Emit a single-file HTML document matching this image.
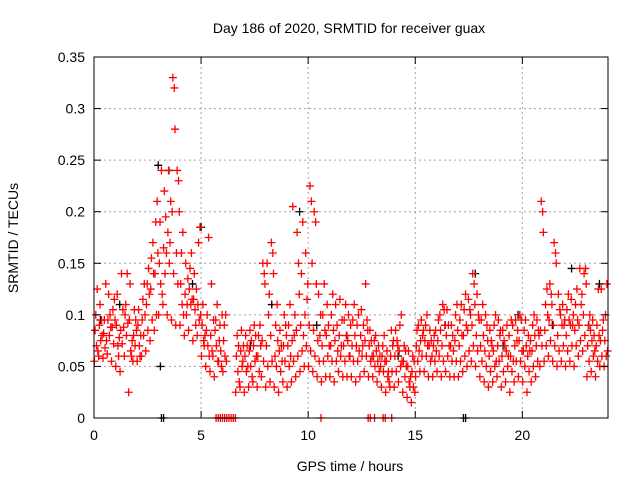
<!DOCTYPE html>
<html><head><meta charset="utf-8"><style>
body{margin:0;background:#fff}
svg{display:block;font-family:"Liberation Sans",sans-serif}
</style></head><body>
<svg id="chart" width="640" height="480" viewBox="0 0 640 480">
<text x="349" y="33" font-size="14" text-anchor="middle">Day 186 of 2020, SRMTID for receiver guax</text>
<text transform="translate(18,238) rotate(-90)" font-size="14" text-anchor="middle">SRMTID / TECUs</text>
<text x="350" y="471" font-size="14" text-anchor="middle">GPS time / hours</text>
<g id="grid"></g><g id="black"></g><g id="red"></g><g id="axes"></g>
</svg>
<script>
const xTicks=[0,5,10,15,20];
const yTicks=[0,0.05,0.1,0.15,0.2,0.25,0.3,0.35];
const yTickLabels=["0","0.05","0.1","0.15","0.2","0.25","0.3","0.35"];
const binHours=0.2;
const lo=[55,60,58,62,55,50,45,60,25,55,55,60,65,75,85,100,110,100,95,90,90,80,85,75,80,60,50,45,40,55,45,null,null,25,30,25,30,35,30,40,30,35,30,25,35,30,35,40,45,50,50,45,40,35,40,40,35,45,40,40,40,35,40,45,40,40,35,30,25,30,30,35,25,20,15,40,45,45,40,40,45,40,45,40,40,40,45,50,55,50,40,35,30,35,40,30,35,25,35,40,35,25,35,40,50,55,60,55,50,55,50,55,50,60,65,40,45,40,50,50];
const m1=[70,75,68,80,72,70,72,80,65,70,70,80,85,95,100,130,140,150,140,130,110,100,110,105,95,75,70,65,70,65,60,null,null,45,50,45,50,55,45,55,50,55,50,45,55,50,55,60,65,70,65,60,55,55,60,55,55,60,55,60,55,55,60,60,55,50,45,45,40,45,45,50,40,35,30,55,60,60,55,55,60,55,60,55,55,55,60,65,70,65,55,50,45,50,55,45,50,45,55,55,50,45,50,55,70,70,75,70,65,70,65,70,70,75,80,55,60,55,60,60];
const m2=[85,90,82,95,88,90,85,100,95,80,90,95,110,125,140,150,165,180,200,160,130,120,125,115,110,90,85,80,85,75,75,null,null,60,65,60,65,70,60,75,70,80,60,65,70,70,75,85,90,100,90,85,75,70,80,70,75,80,70,75,70,70,80,75,70,60,55,60,55,60,60,65,55,50,45,70,75,75,70,70,75,70,80,70,75,70,80,85,90,80,70,65,60,65,70,60,65,60,70,75,65,60,65,70,85,85,95,90,80,90,80,90,85,90,100,70,75,70,75,75];
const hi=[100,110,95,120,105,120,140,110,130,105,105,115,130,155,190,190,220,240,330,240,160,150,145,140,170,110,100,130,95,90,90,null,null,80,85,80,85,90,80,150,150,170,90,85,100,90,205,180,140,160,225,200,120,100,110,100,110,115,95,100,95,90,105,130,85,75,70,70,65,85,85,90,70,65,60,85,95,90,85,80,95,110,105,90,100,95,105,115,140,120,95,100,85,90,95,85,90,95,95,100,85,80,90,95,210,110,130,170,120,110,105,115,110,145,140,90,95,90,125,100];
const m3=[65,80,75,88,95,78,88,92,75,85,80,100,120,140,160,120,160,210,280,200,100,135,115,125,100,80,60,95,55,100,55,null,null,35,70,50,40,60,70,130,120,140,75,55,80,60,100,120,80,130,150,130,100,85,70,85,65,95,80,90,80,65,90,85,60,65,50,55,35,75,70,55,50,40,25,65,85,70,60,65,85,90,70,65,85,80,90,100,110,95,80,75,70,55,85,70,80,55,85,65,70,75,80,80,180,100,110,150,100,95,95,100,95,120,130,85,65,80,95,65];
const pk=[125,95,130,100,115,60,105,140,60,95,60,130,145,170,210,240,195,170,320,230,180,110,160,90,185,70,175,60,110,50,100,null,null,70,55,70,75,80,90,140,100,160,110,70,90,110,80,150,190,115,210,190,80,130,90,120,90,70,110,60,110,100,70,95,75,80,60,80,45,70,75,100,65,30,55,90,80,100,75,85,100,105,90,80,110,110,120,105,130,100,110,90,75,100,80,75,60,90,75,95,95,65,100,85,200,125,120,160,105,90,120,90,125,110,145,100,80,125,85,130];
const blackTimes=[0.3,1.2,3.0,3.1,3.5,4.6,5.0,7.3,8.3,9.6,10.4,11.8,14.2,16.4,17.8,19.1,19.8,21.4,22.3,23.1,23.6];
const blackVals=[0.095,0.11,0.245,0.05,0.24,0.13,0.185,0.07,0.11,0.2,0.09,0.08,0.06,0.09,0.14,0.07,0.1,0.09,0.145,0.09,0.13];
const blackZeroTimes=[3.15,3.25,17.25,17.35];
const redZeroTimes=[5.7,5.8,5.9,6.0,6.1,6.2,6.3,6.4,6.5,6.6,10.6,12.8,12.9,13.1,13.5,13.6,13.9];
const L=94,R=608,T=57,B=418,XMAX=24,YMAX=0.35;
const sx=t=>L+t/XMAX*(R-L), sy=v=>B-v/YMAX*(B-T);
const NS="http://www.w3.org/2000/svg";
function mk(tag,parent,attrs){const e=document.createElementNS(NS,tag);for(const k in attrs)e.setAttribute(k,attrs[k]);parent.appendChild(e);return e;}
const grid=document.getElementById('grid'),axes=document.getElementById('axes');
yTicks.forEach((v,i)=>{const y=sy(v);
 if(i>0&&i<yTicks.length-1){const g=mk('line',grid,{x1:L,x2:R,y1:y,y2:y,stroke:'#a0a0a0','stroke-dasharray':'2,3'});
 
 }
 mk('line',axes,{x1:L,x2:L+7,y1:y,y2:y,stroke:'#000'});mk('line',axes,{x1:R-7,x2:R,y1:y,y2:y,stroke:'#000'});
 const t=mk('text',axes,{x:L-9,y:y+5,'font-size':14,'text-anchor':'end'});t.textContent=yTickLabels[i];
 
 });
xTicks.forEach(v=>{const x=sx(v);
 if(v>0){const g=mk('line',grid,{x1:x,x2:x,y1:T,y2:B,stroke:'#a0a0a0','stroke-dasharray':'2,3'});
 
 }
 mk('line',axes,{x1:x,x2:x,y1:B,y2:B-7,stroke:'#000'});mk('line',axes,{x1:x,x2:x,y1:T,y2:T+7,stroke:'#000'});
 const t=mk('text',axes,{x:x,y:B+22,'font-size':14,'text-anchor':'middle'});t.textContent=v;
 
 });
const frame=mk('rect',axes,{x:L,y:T,width:R-L,height:B-T,fill:'none',stroke:'#000'});


function plus(parent,t,v,color,name){const x=sx(t),y=sy(v);
 const p=mk('path',parent,{d:`M${x-4},${y}h8M${x},${y-4}v8`,stroke:color,'stroke-width':1.3,fill:'none'});
 
 }
const bl=document.getElementById('black'),rd=document.getElementById('red');
blackTimes.forEach((t,i)=>plus(bl,t,blackVals[i],'#000','black-point'));
blackZeroTimes.forEach(t=>plus(bl,t,0,'#000','black-zero-point'));
const layers=[lo,m2,hi,m1,pk,m3];
for(let i=0;i<lo.length;i++){layers.forEach((arr,k)=>{if(arr[i]!==null)plus(rd,i*binHours+0.017+k*0.033,arr[i]/1000,'#f00','red-point');});}
redZeroTimes.forEach(t=>plus(rd,t,0,'#f00','red-zero-point'));
</script>
</body></html>
